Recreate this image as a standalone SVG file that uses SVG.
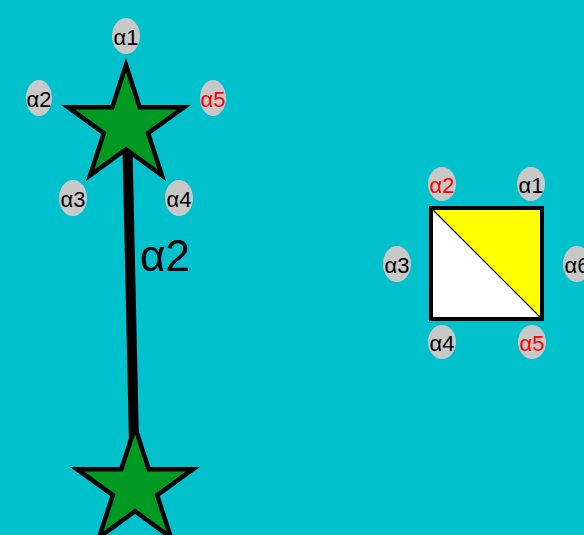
<svg xmlns="http://www.w3.org/2000/svg" width="584" height="535" viewBox="0 0 584 535">
<style>
.star{fill:#009a22;stroke:#000;stroke-width:4.5;stroke-linejoin:miter}
.blob{fill:#c8c8c8}
.lbl{font-family:"Liberation Sans",Arial,sans-serif;font-size:22px;text-anchor:middle;fill:#000}
.red{fill:#ff0000}
.conn{stroke:#000;stroke-width:10;fill:none}
.clbl{font-family:"Liberation Sans",Arial,sans-serif;font-size:44px;fill:#000}
</style>
<defs>
<polygon id="starShape" points="0,-61 13.7,-18.85 58.02,-18.85 22.16,7.2 35.86,49.35 0,23.3 -35.86,49.35 -22.16,7.2 -58.02,-18.85 -13.7,-18.85"/>
</defs>
<rect width="584" height="535" fill="#00c1cc"/>
<g id="connectors">
<line class="conn" x1="127" y1="126" x2="135" y2="488"/>
<text class="clbl" x="140" y="271">α2</text>
</g>
<g id="starTop">
<use href="#starShape" class="star" transform="translate(126,126)"/>
<ellipse class="blob" cx="126" cy="36" rx="14" ry="18"/>
<text class="lbl" x="126" y="45">α1</text>
<ellipse class="blob" cx="39" cy="98" rx="13" ry="18"/>
<text class="lbl" x="39" y="107">α2</text>
<ellipse class="blob" cx="213" cy="98" rx="13" ry="18"/>
<text class="lbl red" x="213" y="107">α5</text>
<ellipse class="blob" cx="73" cy="198" rx="14" ry="18"/>
<text class="lbl" x="73" y="207">α3</text>
<ellipse class="blob" cx="179" cy="198" rx="14" ry="18"/>
<text class="lbl" x="179" y="207">α4</text>
</g>
<g id="starBottom">
<use href="#starShape" class="star" transform="translate(135,488)"/>
</g>
<g id="square">
<polygon points="431,208 542,208 542,319" fill="#ffff00"/>
<polygon points="431,208 542,319 431,319" fill="#ffffff"/>
<line x1="431" y1="208" x2="542" y2="319" stroke="#000" stroke-width="1.2"/>
<rect x="431" y="208" width="111" height="111" fill="none" stroke="#000" stroke-width="4"/>
<ellipse class="blob" cx="442" cy="184" rx="14" ry="17"/>
<text class="lbl red" x="442" y="193">α2</text>
<ellipse class="blob" cx="531" cy="184" rx="14" ry="17"/>
<text class="lbl" x="531" y="193">α1</text>
<ellipse class="blob" cx="397" cy="264" rx="14" ry="18"/>
<text class="lbl" x="397" y="273">α3</text>
<ellipse class="blob" cx="577" cy="264" rx="14" ry="18"/>
<text class="lbl" x="577" y="273">α6</text>
<ellipse class="blob" cx="442" cy="342" rx="14" ry="17"/>
<text class="lbl" x="442" y="351">α4</text>
<ellipse class="blob" cx="532" cy="342" rx="14" ry="17"/>
<text class="lbl red" x="532" y="351">α5</text>
</g>
</svg>
